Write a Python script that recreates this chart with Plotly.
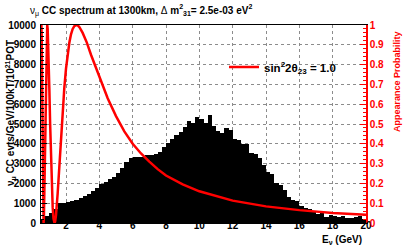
import numpy as np
import plotly.graph_objects as go

# ---------------- data ----------------
BIN_START = 0.5      # GeV, low edge of first bin
BIN_WIDTH = 0.25     # GeV
counts = [
    180, 350, 500, 720, 1030, 1030, 1040, 1090, 1160, 1250,
    1360, 1480, 1640, 1750, 1950, 2060, 2210, 2310, 2550, 2800,
    3100, 3260, 3316, 3316, 3330, 3440, 3420, 3500, 3602, 3840,
    4057, 4225, 4450, 4580, 4865, 5168, 5050, 5340, 5235, 5067,
    5454, 4900, 4630, 4528, 4800, 4680, 4235, 4192, 3980, 3970,
    3560, 3490, 3260, 2950, 2600, 2450, 2000, 1940, 1667, 1330,
    1180, 1100, 865, 741, 690, 606, 455, 539, 320, 404,
    370, 320, 354, 269, 236, 286, 370, 202,
]

prob_e = [0.5, 0.51, 0.524, 0.54, 0.55, 0.575, 0.6, 0.625, 0.655, 0.675, 0.7, 0.725,
          0.75, 0.775, 0.8, 0.825, 0.85, 0.874, 0.9, 0.95, 1.0, 1.05, 1.1, 1.15,
          1.2, 1.25, 1.31, 1.35, 1.4, 1.5, 1.6, 1.7, 1.8, 1.9, 2.0, 2.1, 2.2, 2.3,
          2.4, 2.5, 2.62, 2.7, 2.8, 3.0, 3.25, 3.5, 3.75, 4.0, 4.5, 5.0, 5.5, 6.0,
          6.5, 7.0, 7.5, 8.0, 9.0, 10.0, 12.0, 14.0, 16.0, 18.0, 20.0]
prob_p = [0.86, 0.953, 1.0, 0.949, 0.87, 0.593, 0.30, 0.091, 0.0, 0.033, 0.15, 0.322,
          0.50, 0.683, 0.82, 0.924, 0.982, 1.0, 0.98, 0.86, 0.68, 0.495, 0.33, 0.182,
          0.08, 0.023, 0.0, 0.008, 0.04, 0.15, 0.29, 0.434, 0.57, 0.684, 0.78, 0.856, 0.91, 0.953,
          0.98, 0.994, 1.0, 0.998, 0.99, 0.96, 0.911, 0.85, 0.793, 0.74, 0.63, 0.54, 0.463, 0.40,
          0.351, 0.31, 0.272, 0.24, 0.195, 0.16, 0.113, 0.084, 0.065, 0.051, 0.042]

y_ticks = [0, 1000, 2000, 3000, 4000, 5000, 6000, 7000, 8000, 9000, 10000]
p_ticks = [0, 0.1, 0.2, 0.3, 0.4, 0.5, 0.6, 0.7, 0.8, 0.9, 1]
x_ticks = [2, 4, 6, 8, 10, 12, 14, 16, 18, 20]

# ---------------- figure ----------------
centers = BIN_START + BIN_WIDTH * (np.arange(len(counts)) + 0.5)

FONT = "Liberation Sans, Arial, Helvetica, sans-serif"
W, H = 407, 248
L, R, T, B = 41, 41, 25, 25
PW, PH = W - L - R, H - T - B

def px_x(px):
    return (px - L) / PW

def px_y(py):
    return (H - B - py) / PH

fig = go.Figure()
fig.add_trace(go.Bar(
    x=centers, y=counts, width=BIN_WIDTH,
    marker=dict(color="black", line=dict(width=0)),
    showlegend=False, yaxis="y", hoverinfo="skip",
))
fig.add_trace(go.Scatter(
    x=prob_e, y=prob_p, mode="lines",
    line=dict(color="#ff0000", width=2.5),
    name="<b>sin<sup>2</sup>2θ<sub>23</sub> = 1.0</b>",
    yaxis="y2", showlegend=True, hoverinfo="skip",
))

grid = dict(showgrid=True, gridcolor="#8c8c8c", griddash="dot", gridwidth=1)

fig.update_layout(
    width=W, height=H,
    margin=dict(l=L, r=R, t=T, b=B, pad=0, autoexpand=False),
    paper_bgcolor="white", plot_bgcolor="white",
    bargap=0,
    font=dict(family=FONT, size=10, color="black"),
    title=dict(
        text="ν<sub>μ</sub><b> CC spectrum at 1300km, </b>Δ<b> m<sup>2</sup><sub>31</sub>= 2.5e-03 eV<sup>2</sup></b>",
        xref="container", x=30 / W, xanchor="left",
        yref="container", y=1 - 10 / H, yanchor="middle",
        font=dict(family=FONT, size=10, color="black"),
        automargin=False,
    ),
    xaxis=dict(
        range=[0.5, 20], tickvals=x_ticks,
        ticktext=[f"<b>{v}</b>" for v in x_ticks],
        ticks="inside", ticklen=6, tickcolor="black",
        showline=True, linecolor="black", linewidth=1, mirror=True,
        zeroline=False, automargin=False, **grid,
        tickfont=dict(size=10), ticklabelstandoff=-7,
    ),
    yaxis=dict(
        range=[0, 10000], tickvals=y_ticks,
        ticktext=[f"<b>{v}</b>" for v in y_ticks],
        ticks="inside", ticklen=6, tickcolor="black",
        minor=dict(dtick=200, ticks="inside", ticklen=3, tickcolor="black", showgrid=False),
        showline=True, linecolor="black", linewidth=1,
        zeroline=False, automargin=False, **grid,
        tickfont=dict(size=10), ticklabelstandoff=2,
    ),
    yaxis2=dict(
        range=[0, 1], overlaying="y", side="right",
        tickvals=p_ticks,
        ticktext=[f"<b>{v:g}</b>" for v in p_ticks],
        ticks="inside", ticklen=6, tickcolor="#ff0000",
        minor=dict(dtick=0.02, ticks="inside", ticklen=3, tickcolor="#ff0000", showgrid=False),
        showline=True, linecolor="#ff0000", linewidth=1.5,
        showgrid=False, zeroline=False, automargin=False,
        tickfont=dict(size=10, color="#ff0000"), ticklabelstandoff=0,
    ),
    legend=dict(
        x=px_x(224), xanchor="left",
        y=px_y(67), yanchor="middle",
        bgcolor="rgba(0,0,0,0)", borderwidth=0,
        font=dict(family=FONT, size=11.5, color="black"),
    ),
    annotations=[
        dict(text="<b>ν<sub>μ</sub> CC evts/GeV/100kT/10<sup>21</sup>POT</b>",
             xref="paper", yref="paper", x=px_x(11), y=px_y(113),
             xanchor="center", yanchor="middle", textangle=-90, showarrow=False,
             font=dict(family=FONT, size=10, color="black")),
        dict(text="<b>Appearance Probability</b>",
             xref="paper", yref="paper", x=px_x(397), y=px_y(82),
             xanchor="center", yanchor="middle", textangle=-90, showarrow=False,
             font=dict(family=FONT, size=9, color="#ff0000")),
        dict(text="<b>E<sub>ν</sub> (GeV)</b>",
             xref="paper", yref="paper", x=px_x(364), y=px_y(240),
             xanchor="right", yanchor="middle", showarrow=False,
             font=dict(family=FONT, size=10, color="black")),
    ],
)

fig.write_html(
    "out.html",
    config={"displayModeBar": False},
    post_script="document.body.style.margin='0';document.documentElement.style.overflow='hidden';",
)
